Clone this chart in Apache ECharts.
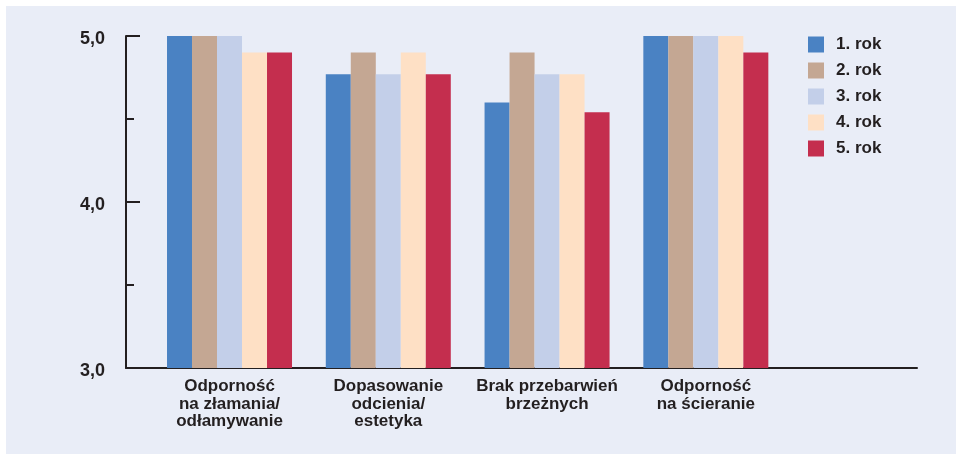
<!DOCTYPE html>
<html lang="pl">
<head>
<meta charset="UTF-8">
<title>Ocena - wykres</title>
<script src="https://cdn.jsdelivr.net/npm/echarts@6/dist/echarts.min.js"></script>
<style>
    html, body { margin: 0; padding: 0; background: #ffffff; }
    #frame { position: absolute; left: 6px; top: 6px; width: 950px; height: 448px; background: #e9edf7; }
    #chart { position: absolute; left: 0; top: 0; width: 959px; height: 457px; }
</style>
<script>
    // dane wykresu
    var categories = ['Odporność\nna złamania/\nodłamywanie', 'Dopasowanie\nodcienia/\nestetyka', 'Brak przebarwień\nbrzeżnych', 'Odporność\nna ścieranie'];
    var seriesNames = ['1. rok', '2. rok', '3. rok', '4. rok', '5. rok'];
    var rok1 = [5.0, 4.77, 4.60, 5.0];
    var rok2 = [5.0, 4.90, 4.90, 5.0];
    var rok3 = [5.0, 4.77, 4.77, 5.0];
    var rok4 = [4.90, 4.90, 4.77, 5.0];
    var rok5 = [4.90, 4.77, 4.54, 4.90];
    var yTicks = [3, 4, 5];
    var colors = ['#4a82c3', '#c4a793', '#c3cfe9', '#fee0c5', '#c42e4e'];

    function pairs(arr) {
        var out = [];
        for (var i = 0; i < arr.length; i++) out.push([i, arr[i]]);
        return out;
    }

    window.onload = function () {
        var myChart = echarts.init(document.getElementById('chart'));
        var all = [rok1, rok2, rok3, rok4, rok5];
        var series = [];
        for (var s = 0; s < all.length; s++) {
            series.push({
                name: seriesNames[s],
                type: 'bar',
                data: pairs(all[s]),
                barWidth: 25,
                barGap: '0%',
                itemStyle: { color: colors[s] }
            });
        }
        var option = {
            animation: false,
            backgroundColor: 'transparent',
            textStyle: { fontFamily: 'Liberation Sans, Arial, sans-serif' },
            legend: {
                orient: 'vertical',
                left: 808,
                top: 36,
                padding: 0,
                itemWidth: 16,
                itemHeight: 16,
                itemGap: 9,
                icon: 'rect',
                data: seriesNames,
                textStyle: { fontSize: 17, lineHeight: 16, fontWeight: 'bold', color: '#231f20', padding: [0, 0, 0, 7] }
            },
            grid: { left: 126, right: 42, top: 36, bottom: 89 },
            xAxis: {
                type: 'value',
                min: -0.652,
                max: 4.33,
                splitLine: { show: false },
                axisLine: { show: true, onZero: false, lineStyle: { color: '#231f20', width: 2 } },
                axisTick: { show: false },
                axisLabel: {
                    customValues: [0, 1, 2, 3],
                    margin: 10,
                    fontSize: 17,
                    fontWeight: 'bold',
                    lineHeight: 17.5,
                    color: '#231f20',
                    formatter: function (v) { return categories[Math.round(v)] || ''; }
                }
            },
            yAxis: {
                type: 'value',
                min: 3,
                max: 5,
                interval: 1,
                splitLine: { show: false },
                axisLine: { show: true, onZero: false, lineStyle: { color: '#231f20', width: 2 } },
                axisTick: { show: true, inside: true, length: 14, lineStyle: { color: '#231f20', width: 2 } },
                minorTick: { show: true, splitNumber: 2, length: 8, lineStyle: { color: '#231f20', width: 2 } },
                axisLabel: {
                    margin: 21,
                    fontSize: 18,
                    fontWeight: 'bold',
                    color: '#231f20',
                    verticalAlign: 'top',
                    lineHeight: 6,
                    formatter: function (v) { return yTicks.indexOf(v) >= 0 ? v.toFixed(1).replace('.', ',') : ''; }
                }
            },
            series: series
        };
        myChart.setOption(option);
    };
</script>
</head>
<body>
<div id="frame"></div>
<div id="chart"></div>
</body>
</html>
